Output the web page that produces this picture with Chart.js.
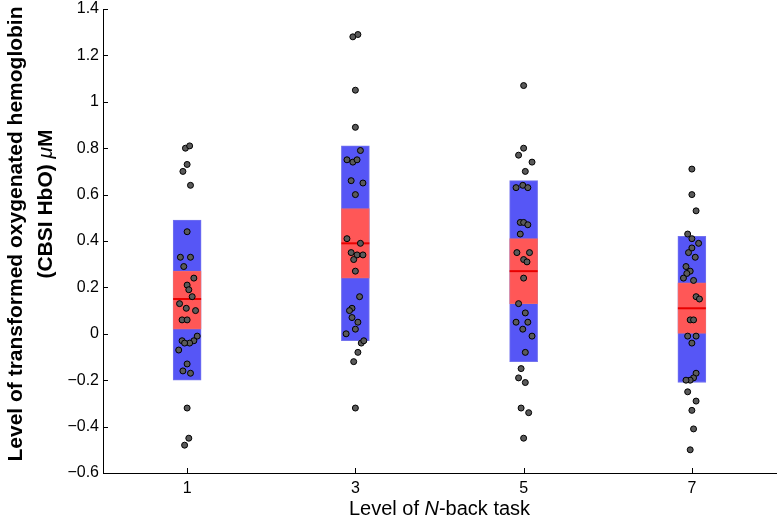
<!DOCTYPE html>
<html>
<head>
<meta charset="utf-8">
<script src="https://cdn.jsdelivr.net/npm/chart.js@4.4.1/dist/chart.umd.min.js"></script>
<style>
  html, body { margin: 0; padding: 0; background: #fff; }
  canvas { display: block; }
</style>
</head>
<body>
<canvas id="nback" width="780" height="520"></canvas>
<script>
// N-back levels on the x axis
var levels = [1, 3, 5, 7];

// blue boxes (outer range) and red boxes (inner interval), plus the mean line
var blueLow  = [-0.20, -0.03, -0.12, -0.21];
var blueHigh = [0.49, 0.81, 0.66, 0.42];
var redLow   = [0.02, 0.24, 0.13, 0.00];
var redHigh  = [0.27, 0.54, 0.41, 0.22];
var means    = [0.15, 0.39, 0.27, 0.11];

// individual subjects (jittered x)
var g1x = [0.98, 1.03, 1.00, 0.95, 1.04, 1.00, 0.92, 1.04, 0.96, 1.08, 1.00, 1.02, 1.06, 0.91, 0.99,
           1.10, 0.94, 1.00, 1.12, 1.08, 1.03, 0.94, 0.97, 0.90, 1.00, 0.95, 1.04, 1.00, 1.02, 0.97];
var g1y = [0.80, 0.81, 0.73, 0.70, 0.64, 0.44, 0.33, 0.33, 0.29, 0.24, 0.21, 0.19, 0.16, 0.13, 0.11,
           0.10, 0.06, 0.06, -0.01, -0.03, -0.04, -0.03, -0.04, -0.07, -0.13, -0.16, -0.17, -0.32, -0.45, -0.48];
var g2x = [2.97, 3.03, 3.00, 3.00, 3.06, 2.90, 2.97, 3.02, 2.95, 3.09, 3.00, 2.90, 3.06, 2.95, 3.02,
           3.09, 2.98, 3.00, 3.05, 2.96, 2.93, 2.96, 3.03, 3.00, 2.89, 3.07, 3.10, 3.03, 2.98, 3.00];
var g2y = [1.28, 1.29, 1.05, 0.89, 0.79, 0.75, 0.74, 0.75, 0.66, 0.65, 0.60, 0.41, 0.39, 0.35, 0.34,
           0.34, 0.32, 0.27, 0.16, 0.11, 0.10, 0.07, 0.05, 0.02, 0.00, -0.04, -0.03, -0.08, -0.12, -0.32];
var g3x = [5.00, 5.00, 4.94, 5.10, 5.02, 4.91, 4.99, 5.05, 4.96, 5.00, 5.05, 4.96, 4.92, 5.07, 5.00,
           5.04, 5.00, 4.94, 5.02, 4.91, 5.05, 4.99, 5.10, 5.02, 4.97, 4.94, 5.02, 4.97, 5.06, 5.00];
var g3y = [1.07, 0.80, 0.77, 0.74, 0.70, 0.63, 0.64, 0.63, 0.48, 0.48, 0.47, 0.43, 0.35, 0.35, 0.32,
           0.31, 0.24, 0.13, 0.09, 0.05, 0.05, 0.02, -0.01, -0.08, -0.15, -0.19, -0.21, -0.32, -0.34, -0.45];
var g4x = [7.00, 7.00, 7.05, 6.95, 7.00, 7.08, 7.00, 6.96, 7.04, 6.93, 6.98, 6.94, 6.90, 7.02, 7.05,
           7.09, 6.98, 7.02, 6.95, 7.05, 7.00, 7.05, 7.02, 6.98, 6.93, 6.95, 7.05, 7.00, 7.02, 6.98];
var g4y = [0.71, 0.60, 0.53, 0.43, 0.41, 0.39, 0.37, 0.35, 0.33, 0.29, 0.27, 0.26, 0.24, 0.23, 0.16,
           0.15, 0.06, 0.06, -0.01, -0.01, -0.04, -0.17, -0.19, -0.20, -0.20, -0.25, -0.29, -0.33, -0.41, -0.50];

var FONT = '"Liberation Sans", Arial, Helvetica, sans-serif';

function pairs(xs, ys) {
    return xs.map(function (x, i) { return { x: x, y: ys[i] }; });
}
function ranges(lo, hi) {
    return levels.map(function (x, i) { return { x: x, y: [lo[i], hi[i]] }; });
}

var points = pairs(g1x, g1y).concat(pairs(g2x, g2y), pairs(g3x, g3y), pairs(g4x, g4y));

// write a line made of several font runs, centred on (0, 0)
function drawRuns(ctx, runs) {
    var total = 0;
    runs.forEach(function (r) { ctx.font = r.font; r.w = ctx.measureText(r.text).width; total += r.w; });
    var x = -total / 2;
    runs.forEach(function (r) { ctx.font = r.font; ctx.fillText(r.text, x, 0); x += r.w; });
}

// inward tick marks and the axis titles (with italic N and mu)
var extras = {
    id: 'extras',
    afterDraw: function (chart) {
        var ctx = chart.ctx, area = chart.chartArea;
        var sx = chart.scales.x, sy = chart.scales.y;
        ctx.save();
        ctx.strokeStyle = '#000';
        ctx.lineWidth = 1;
        ctx.beginPath();
        sx.ticks.forEach(function (t) {
            var px = Math.round(sx.getPixelForValue(t.value)) + 0.5;
            ctx.moveTo(px, area.bottom);
            ctx.lineTo(px, area.bottom - 5);
        });
        sy.ticks.forEach(function (t) {
            var py = Math.round(sy.getPixelForValue(t.value)) + 0.5;
            ctx.moveTo(area.left, py);
            ctx.lineTo(area.left + 5, py);
        });
        ctx.stroke();

        ctx.fillStyle = '#000';
        ctx.textBaseline = 'alphabetic';

        // x title
        ctx.save();
        ctx.translate((area.left + area.right) / 2, 515);
        drawRuns(ctx, [
            { text: 'Level of ', font: '20px ' + FONT },
            { text: 'N', font: 'italic 20px ' + FONT },
            { text: '-back task', font: '20px ' + FONT }
        ]);
        ctx.restore();

        // y title, two lines
        ctx.save();
        ctx.translate(22, 234);
        ctx.rotate(-Math.PI / 2);
        drawRuns(ctx, [{ text: 'Level of transformed oxygenated hemoglobin', font: 'bold 21px ' + FONT }]);
        ctx.restore();

        ctx.save();
        ctx.translate(52, 204);
        ctx.rotate(-Math.PI / 2);
        drawRuns(ctx, [
            { text: '(CBSI HbO) ', font: 'bold 21px ' + FONT },
            { text: 'μ', font: 'italic 21px ' + FONT },
            { text: 'M', font: 'bold 21px ' + FONT }
        ]);
        ctx.restore();

        ctx.restore();
    }
};

var ctx = document.getElementById('nback').getContext('2d');

var chart = new Chart(ctx, {
    type: 'bar',
    data: {
        datasets: [{
            type: 'scatter',
            data: points,
            pointRadius: 3,
            pointBackgroundColor: '#5a5a5a',
            pointBorderColor: '#000',
            pointBorderWidth: 1,
            order: 0
        }, {
            type: 'scatter',
            data: pairs(levels, means),
            pointStyle: 'line',
            pointRadius: 14,
            borderColor: '#e80000',
            pointBorderWidth: 2,
            order: 1
        }, {
            data: ranges(redLow, redHigh),
            backgroundColor: '#ff5757',
            borderColor: '#f06a6a',
            borderWidth: 1,
            borderSkipped: false,
            barThickness: 28,
            grouped: false,
            order: 2
        }, {
            data: ranges(blueLow, blueHigh),
            backgroundColor: '#5656f6',
            borderColor: '#7373ee',
            borderWidth: 1,
            borderSkipped: false,
            barThickness: 28,
            grouped: false,
            order: 3
        }]
    },
    options: {
        responsive: false,
        animation: false,
        layout: { padding: 0, autoPadding: false },
        plugins: {
            legend: { display: false },
            tooltip: { enabled: false }
        },
        scales: {
            x: {
                type: 'linear',
                min: 0,
                max: 8,
                offset: false,
                grid: { display: true, drawOnChartArea: false, drawTicks: false },
                border: { display: true, color: '#000', width: 1 },
                afterBuildTicks: function (scale) {
                    scale.ticks = levels.map(function (v) { return { value: v }; });
                },
                afterFit: function (scale) {
                    scale.height = 47;
                    scale.paddingLeft = 0;
                    scale.paddingRight = 4;
                },
                ticks: {
                    color: '#000',
                    padding: 6,
                    font: { family: FONT, size: 16 },
                    maxRotation: 0
                }
            },
            y: {
                min: -0.6,
                max: 1.4,
                grid: { display: true, drawOnChartArea: false, drawTicks: false },
                border: { display: true, color: '#000', width: 1 },
                afterFit: function (scale) {
                    scale.width = 103;
                    scale.paddingTop = 9;
                    scale.paddingBottom = 0;
                },
                ticks: {
                    color: '#000',
                    padding: 4,
                    stepSize: 0.2,
                    font: { family: FONT, size: 16 },
                    callback: function (v) {
                        var s = Math.round(v * 10) / 10;
                        return s < 0 ? '\u2212' + (-s) : String(s);
                    }
                }
            }
        }
    },
    plugins: [extras]
});
</script>
</body>
</html>
